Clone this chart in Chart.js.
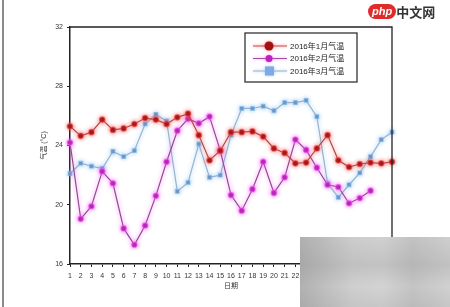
<!DOCTYPE html>
<html>
<head>
<meta charset="utf-8">
<script src="https://cdn.jsdelivr.net/npm/chart.js@4/dist/chart.umd.min.js"></script>
<style>
  html, body { margin: 0; padding: 0; background: #ffffff; }
  #wrap { position: relative; width: 450px; height: 307px; overflow: hidden; background: #fff; }
  #c { position: absolute; left: 0; top: 0; }
  #edge { position: absolute; left: 2px; top: 0; width: 2px; height: 307px; background: #8a8a8a; }
  #logo { position: absolute; left: 368px; top: 2px; height: 16px; font-family: "Liberation Sans", Arial, sans-serif; white-space: nowrap; }
  #logo .php { display: inline-block; background: #e02b2b; color: #fff; border-radius: 9px; font-size: 11px; font-style: italic; font-weight: bold; padding: 0 4px; line-height: 15px; vertical-align: middle; }
  #logo .cn { font-family: "Noto Sans CJK SC", sans-serif; font-size: 13px; color: #333; vertical-align: middle; font-weight: bold; }
  #blur { position: absolute; left: 300px; top: 237px; width: 150px; height: 70px;
    background:
      linear-gradient(90deg, rgba(150,150,150,0.55) 0%, rgba(200,200,200,0.3) 35%, rgba(215,215,215,0.2) 55%, rgba(170,170,170,0.35) 75%, rgba(205,205,205,0.25) 100%),
      linear-gradient(180deg, #cfcfcf 0%, #bdbdbd 40%, #d2d2d2 70%, #c4c4c4 100%);
  }
</style>
</head>
<body>
<div id="wrap">
  <canvas id="c" width="450" height="307"></canvas>
  <div id="edge"></div>
  <div id="logo"><span class="php">php</span><span class="cn">中文网</span></div>
  <div id="blur"></div>
</div>
<script>
// ---- data ----
const days = ['1','2','3','4','5','6','7','8','9','10','11','12','13','14','15','16','17','18','19','20','21','22','23','24','25','26','27','28','29','30','31'];
const seriesNames = ['2016年1月气温', '2016年2月气温', '2016年3月气温'];
const jan = [25.3, 24.65, 24.9, 25.75, 25.05, 25.15, 25.45, 25.85, 25.75, 25.45, 25.9, 26.15, 24.7, 23.0, 23.65, 24.9, 24.9, 24.95, 24.6, 23.8, 23.5, 22.8, 22.85, 23.8, 24.7, 23.0, 22.55, 22.75, 22.85, 22.8, 22.9];
const feb = [24.2, 19.05, 19.9, 22.25, 21.45, 18.4, 17.3, 18.6, 20.6, 22.9, 25.0, 25.8, 25.5, 25.95, 23.65, 20.65, 19.6, 21.05, 22.9, 20.8, 21.85, 24.4, 23.7, 22.5, 21.35, 21.2, 20.1, 20.45, 20.95];
const mar = [22.1, 22.8, 22.6, 22.45, 23.6, 23.25, 23.65, 25.45, 26.1, 25.65, 20.9, 21.5, 24.1, 21.85, 22.0, 24.7, 26.5, 26.5, 26.65, 26.35, 26.9, 26.9, 27.05, 25.95, 21.45, 20.5, 21.35, 22.15, 23.25, 24.4, 24.9];
const yTicks = [16, 20, 24, 28, 32];
const xTitle = '日期';
const yTitle = '气温 (°C)';

const glowPlugin = {
  id: 'glow',
  beforeDatasetDraw(chart, args) {
    const ds = chart.data.datasets[args.index];
    chart.ctx.save();
    chart.ctx.shadowColor = ds.glowColor;
    chart.ctx.shadowBlur = 4;
  },
  afterDatasetDraw(chart) { chart.ctx.restore(); }
};

const framePlugin = {
  id: 'frame',
  afterDraw(chart) {
    const a = chart.chartArea, ctx = chart.ctx;
    ctx.save();
    ctx.strokeStyle = '#222';
    ctx.lineWidth = 1.3;
    ctx.beginPath();
    ctx.moveTo(a.left, a.top); ctx.lineTo(a.right, a.top); ctx.lineTo(a.right, a.bottom);
    ctx.stroke();
    ctx.restore();
  }
};

const boxLegend = {
  id: 'boxLegend',
  afterDraw(chart) {
    const a = chart.chartArea, ctx = chart.ctx;
    const w = 112, h = 49;
    const x0 = a.right - 147, y0 = a.top + 6;
    ctx.save();
    ctx.fillStyle = '#fff';
    ctx.fillRect(x0, y0, w, h);
    ctx.strokeStyle = '#333';
    ctx.lineWidth = 1.3;
    ctx.strokeRect(x0, y0, w, h);
    chart.data.datasets.forEach((ds, i) => {
      const y = y0 + 13 + i * 12.5;
      ctx.shadowColor = ds.glowColor; ctx.shadowBlur = 3;
      ctx.strokeStyle = ds.legendLine; ctx.lineWidth = 1.2;
      ctx.beginPath(); ctx.moveTo(x0 + 8, y); ctx.lineTo(x0 + 42, y); ctx.stroke();
      ctx.fillStyle = ds.legendMarker;
      if (ds.pointStyle === 'rect') {
        ctx.fillRect(x0 + 20, y - 4.5, 9, 9);
      } else {
        ctx.beginPath(); ctx.arc(x0 + 24, y, i === 0 ? 4.5 : 3.5, 0, Math.PI * 2); ctx.fill();
      }
      ctx.shadowBlur = 0;
      ctx.fillStyle = '#222';
      ctx.font = '8px "Liberation Sans", "Noto Sans CJK SC", sans-serif';
      ctx.textBaseline = 'middle';
      ctx.fillText(ds.label, x0 + 45, y + 0.5);
    });
    ctx.restore();
  }
};

const tickFont = { family: '"Liberation Sans", "Noto Sans CJK SC", sans-serif', size: 7 };

new Chart(document.getElementById('c'), {
  type: 'line',
  data: {
    labels: days,
    datasets: [
      { label: seriesNames[0], data: jan, borderColor: '#b04848', borderWidth: 1.2,
        pointBackgroundColor: '#8a1212', pointBorderColor: 'rgba(235,60,60,0.55)', pointBorderWidth: 1.5, pointRadius: 2.6,
        glowColor: 'rgba(255,80,80,0.8)', legendLine: '#c05050', legendMarker: '#a51010', tension: 0 },
      { label: seriesNames[1], data: feb, borderColor: '#8e4c8e', borderWidth: 1.2,
        pointBackgroundColor: '#a01ea0', pointBorderColor: 'rgba(240,80,240,0.55)', pointBorderWidth: 1.5, pointRadius: 2.6,
        glowColor: 'rgba(255,90,255,0.85)', legendLine: '#a050a0', legendMarker: '#c020c0', tension: 0 },
      { label: seriesNames[2], data: mar, borderColor: '#9ab2cc', borderWidth: 1.2, pointStyle: 'rect',
        pointBackgroundColor: '#6c8cbc', pointBorderColor: 'rgba(120,180,230,0.55)', pointBorderWidth: 1.2, pointRadius: 2.6,
        glowColor: 'rgba(130,190,240,0.8)', legendLine: '#9ab2cc', legendMarker: '#7fa8e6', tension: 0 }
    ]
  },
  options: {
    responsive: false,
    animation: false,
    layout: { padding: { left: 0, right: 58, top: 27, bottom: 0 } },
    plugins: { legend: { display: false }, tooltip: { enabled: false } },
    scales: {
      x: {
        offset: false,
        grid: { display: true, drawOnChartArea: false, color: '#222', tickLength: 3 },
        border: { color: '#222', width: 1.5 },
        ticks: { color: '#333', font: tickFont, maxRotation: 0, autoSkip: false, padding: 5 },
        title: { display: true, text: xTitle, color: '#333', font: tickFont, padding: { top: 0, bottom: 17 } },
        afterFit(s) { s.height = 43; }
      },
      y: {
        min: 16, max: 32,
        afterBuildTicks(s) { s.ticks = yTicks.map(v => ({ value: v })); },
        grid: { display: true, drawOnChartArea: false, color: '#222', tickLength: 3 },
        border: { color: '#222', width: 1.5 },
        ticks: { color: '#333', font: tickFont, padding: 4 },
        title: { display: true, text: yTitle, color: '#333', font: tickFont, padding: { top: 40, bottom: 0 } },
        afterFit(s) { s.width = 70; }
      }
    }
  },
  plugins: [glowPlugin, framePlugin, boxLegend]
});
</script>
</body>
</html>
